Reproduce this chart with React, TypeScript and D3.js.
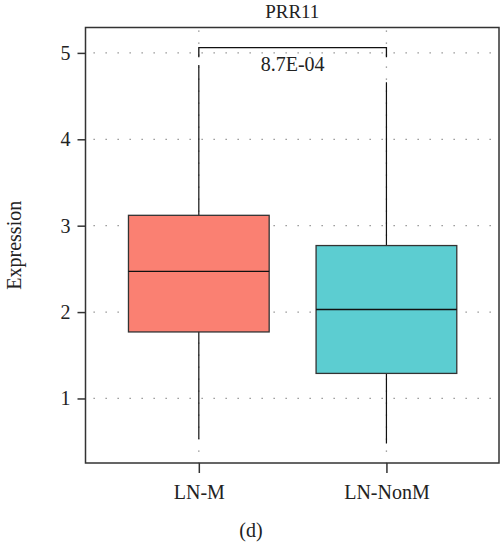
import React, { useRef, useEffect } from "react";
import * as d3 from "d3";

// values
const groups = ["LN-M", "LN-NonM"];
const colors = ["#fa8072", "#5ccdd1"];
const whiskerLow = [0.53, 0.48];
const q1 = [1.77, 1.29];
const median = [2.47, 2.03];
const q3 = [3.12, 2.77];
const whiskerHigh = [4.86, 4.66];
const yTicks = [1, 2, 3, 4, 5];
const pValue = "8.7E-04";
const bracketTop = 5.06;
const bracketLeg = 4.95;

export default function App() {
  const ref = useRef<SVGSVGElement>(null);

  useEffect(() => {
    const width = 500;
    const height = 542;
    const svg = d3.select(ref.current);
    svg.selectAll("*").remove();
    svg.attr("width", width).attr("height", height);

    const left = 85.5, right = 499, top = 27.5, bottom = 463;
    const font = "Liberation Serif, serif";

    const x = d3.scaleLinear().domain([0.396, 2.6]).range([left, right]);
    const y = d3.scaleLinear().domain([0.253, 5.294]).range([bottom, top]);
    const pos = groups.map((_, i) => i + 1);
    const half = 0.375;

    // dotted grid
    const grid = svg.append("g")
      .attr("stroke", "#888")
      .attr("stroke-width", 1.3)
      .attr("stroke-dasharray", "1.3,10.7");
    grid.selectAll("line.h")
      .data(yTicks)
      .join("line")
      .attr("class", "h")
      .attr("x1", left + 8).attr("x2", right)
      .attr("y1", (d) => y(d)).attr("y2", (d) => y(d));
    grid.selectAll("line.v")
      .data(pos)
      .join("line")
      .attr("class", "v")
      .attr("x1", (d) => x(d)).attr("x2", (d) => x(d))
      .attr("y1", top + 3).attr("y2", bottom);

    // whiskers
    const g = svg.append("g");
    g.selectAll("line.w")
      .data(groups)
      .join("line")
      .attr("class", "w")
      .attr("x1", (_, i) => x(pos[i])).attr("x2", (_, i) => x(pos[i]))
      .attr("y1", (_, i) => y(whiskerLow[i])).attr("y2", (_, i) => y(whiskerHigh[i]))
      .attr("stroke", "#111").attr("stroke-width", 1.2);

    // boxes
    g.selectAll("rect")
      .data(groups)
      .join("rect")
      .attr("x", (_, i) => x(pos[i] - half))
      .attr("width", (_, i) => x(pos[i] + half) - x(pos[i] - half))
      .attr("y", (_, i) => y(q3[i]))
      .attr("height", (_, i) => y(q1[i]) - y(q3[i]))
      .attr("fill", (_, i) => colors[i])
      .attr("stroke", "#333").attr("stroke-width", 1.3);
    g.selectAll("line.m")
      .data(groups)
      .join("line")
      .attr("class", "m")
      .attr("x1", (_, i) => x(pos[i] - half)).attr("x2", (_, i) => x(pos[i] + half))
      .attr("y1", (_, i) => y(median[i])).attr("y2", (_, i) => y(median[i]))
      .attr("stroke", "#111").attr("stroke-width", 1.3);

    // significance bracket
    svg.append("path")
      .attr("d", `M${x(1)},${y(bracketLeg)}V${y(bracketTop)}H${x(2)}V${y(bracketLeg)}`)
      .attr("fill", "none").attr("stroke", "#111").attr("stroke-width", 1.3);
    svg.append("text")
      .attr("x", (x(1) + x(2)) / 2).attr("y", 71)
      .attr("text-anchor", "middle")
      .style("font-family", font).style("font-size", "20px").attr("fill", "#222")
      .text(pValue);

    // frame
    svg.append("rect")
      .attr("x", left).attr("y", top)
      .attr("width", right - left).attr("height", bottom - top)
      .attr("fill", "none").attr("stroke", "#333").attr("stroke-width", 1.5);

    // axes
    const yAxis = svg.append("g")
      .attr("transform", `translate(${left},0)`)
      .call(d3.axisLeft(y).tickValues(yTicks).tickSize(8).tickPadding(7).tickFormat(d3.format("d")));
    const xAxis = svg.append("g")
      .attr("transform", `translate(0,${bottom})`)
      .call(d3.axisBottom(x).tickValues(pos).tickSize(10).tickPadding(12).tickFormat((d, i) => groups[i]));
    [yAxis, xAxis].forEach((a) => {
      a.select(".domain").remove();
      a.attr("font-family", font).attr("font-size", 20);
      a.selectAll("line").attr("stroke", "#333").attr("stroke-width", 1.5);
      a.selectAll("text").style("font-family", font).style("font-size", "20px").attr("fill", "#222");
    });

    svg.append("text")
      .attr("x", (left + right) / 2).attr("y", 18)
      .attr("text-anchor", "middle")
      .style("font-family", font).style("font-size", "19px").attr("fill", "#222")
      .text("PRR11");
    svg.append("text")
      .attr("transform", `translate(21,${(top + bottom) / 2}) rotate(-90)`)
      .attr("text-anchor", "middle")
      .style("font-family", font).style("font-size", "20px").attr("fill", "#222")
      .text("Expression");
    svg.append("text")
      .attr("x", 251).attr("y", 537)
      .attr("text-anchor", "middle")
      .style("font-family", font).style("font-size", "20px").attr("fill", "#222")
      .text("(d)");
  }, []);

  return (
    <div style={{ position: "absolute", left: 0, top: 0 }}>
      <svg ref={ref} />
    </div>
  );
}
